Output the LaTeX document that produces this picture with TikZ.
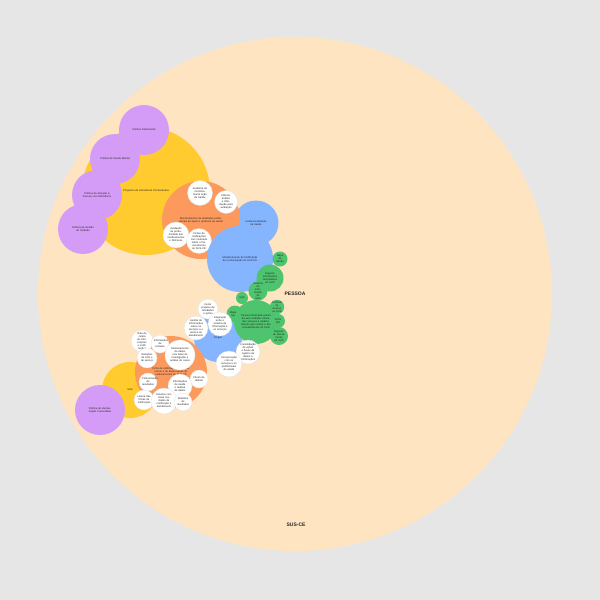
\documentclass[tikz,border=0pt]{standalone}
\usepackage{fontspec}
\setmainfont{Liberation Sans}
\definecolor{bgC}{HTML}{E6E6E6}
\definecolor{peachC}{HTML}{FFE4C2}
\definecolor{yelC}{HTML}{FFCB2E}
\definecolor{orC}{HTML}{FC9A5E}
\definecolor{purC}{HTML}{D49CF7}
\definecolor{bluC}{HTML}{85B5FF}
\definecolor{grnC}{HTML}{4FC46E}
\tikzset{
  bub/.style={circle, inner sep=0pt, outer sep=0pt, minimum size=#1, text width=0.68*#1, align=center, font=\fontsize{2.6}{3}\selectfont, text=black!85},
  purb/.style={bub=#1, fill=purC},
  yelb/.style={bub=#1, fill=yelC},
  orb/.style={bub=#1, fill=orC},
  blub/.style={bub=#1, fill=bluC},
  grnb/.style={bub=#1, fill=grnC},
  whb/.style={bub=#1, fill=white, draw=black!12, line width=0.3pt},
  bigtitle/.style={font=\fontsize{5}{6}\selectfont\bfseries, text=black!85}
}
\begin{document}
\begin{tikzpicture}[x=1pt,y=-1pt]
\fill[bgC] (0,0) rectangle (600,600);
\useasboundingbox (0,0) rectangle (600,600);
\node[circle, fill=peachC, minimum size=514pt, inner sep=0pt] (susce) at (295,294) {};
\node[bigtitle] (susl) at (296,525) {SUS-CE};
\node[bigtitle] (pessoa) at (295,294) {PESSOA};

% upper cluster
\node[yelb=128pt] (y1) at (146,191) {Programa de Assistência Farmacêutica};
\node[purb=50pt] (p1) at (144,130) {Política Intersetorial};
\node[purb=50pt] (p2) at (115,159) {Política de Saúde Mental};
\node[purb=50pt] (p3) at (97,195) {Política de Atenção à Pessoa com Deficiência};
\node[purb=50pt] (p4) at (83,229) {Política de Gestão do Cuidado};
\node[blub=45pt] (b1) at (256,223) {Institucionalização da Saúde};
\node[orb=78pt, text width=52pt] (o1) at (201,220) {Monitoramento de atividades profissionais de apoio e gerência de saúde};
\node[whb=25pt] (wa) at (200,193) {Auditoria de monitoramento ação de Saúde};
\node[whb=23pt] (wb) at (226,202) {Cálculo, análise e informação para avaliação};
\node[whb=26pt] (wc) at (176,235) {Avaliação de produtividade dos medicamentos e fármacos};
\node[whb=25pt] (wd) at (199,241) {Fichas de notificações com conteúdo sobre o funcionamento do SUS-CE};
\node[blub=66pt] (b2) at (240,259) {Monitoramento da Notificação de Comunicação do SUS-CE};

% green cluster
\node[grnb=15pt] (g1) at (280,259) {Mapa de Saúde};
\node[grnb=27pt] (g2) at (270,278) {Registro Informações Hospitalares do SUS};
\node[grnb=13pt] (g3) at (258,291) {Sistema de Informação do SUS};
\node[grnb=12pt] (g4) at (242,298) {SUS};

% lower cluster
\node[yelb=56pt] (y2) at (130,390) {SUS};
\node[purb=50pt] (p5) at (100,410) {Política de Humanização Comunitária};
\node[blub=48pt] (b3) at (218,338) {Pregão};
\node[orb=72pt, text width=50pt] (o2) at (171,372) {Ficha de notificações de atendimento e de dispensação de medicamentos do SUS-CE};
\node[grnb=17pt] (g5) at (235,314) {Mapa de Saúde};
\node[grnb=44pt, text width=30pt] (g6) at (256,322) {Pessoa informada acerca da sua condição clínica, dos serviços e medicamentos que recebe e dos procedimentos do SUS};
\node[grnb=14pt] (g7) at (277,307) {Controle de Acesso ao SUS};
\node[grnb=14pt] (g8) at (278,321) {Ficha SIH};
\node[grnb=18pt] (g9) at (279,336) {Registro de Atendimento do SUS};

\node[whb=20pt] (w11) at (208,309) {Iniciar projetos de atividades e ações};
\node[whb=24pt] (w12) at (196,328) {Gestão de informações sobre os serviços e o acesso ao atendimento};
\node[whb=24pt] (w13) at (220,324) {Integração entre o sistema de informação e os serviços};
\node[whb=24pt] (w14) at (248,352) {Consolidação de ações e fluxos de registro de dados e informações};
\node[whb=26pt] (w15) at (229,364) {Comunicação com os serviços e os profissionais de saúde};

\node[whb=20pt] (w1) at (142,341) {Data de coleta de informações e notificações};
\node[whb=18pt] (w2) at (160,344) {Informações de contexto};
\node[whb=20pt] (w3) at (147,358) {Relações de ciclo e de serviço};
\node[whb=30pt] (w4) at (180,355) {Monitoramento de dados com base de investigação e análise de casos};
\node[whb=18pt] (w5) at (199,379) {Fórum de debate};
\node[whb=18pt] (w6) at (148,382) {Comunicação de resultados};
\node[whb=24pt] (w7) at (180,386) {Informações de saúde e análise de dados};
\node[whb=20pt] (w8) at (144,400) {Leitura das fichas de notificação};
\node[whb=26pt] (w9) at (164,401) {Estudos com base nos dados de notificação e atendimento};
\node[whb=18pt] (w10) at (183,402) {Relatório de resultados};
\end{tikzpicture}
\end{document}
